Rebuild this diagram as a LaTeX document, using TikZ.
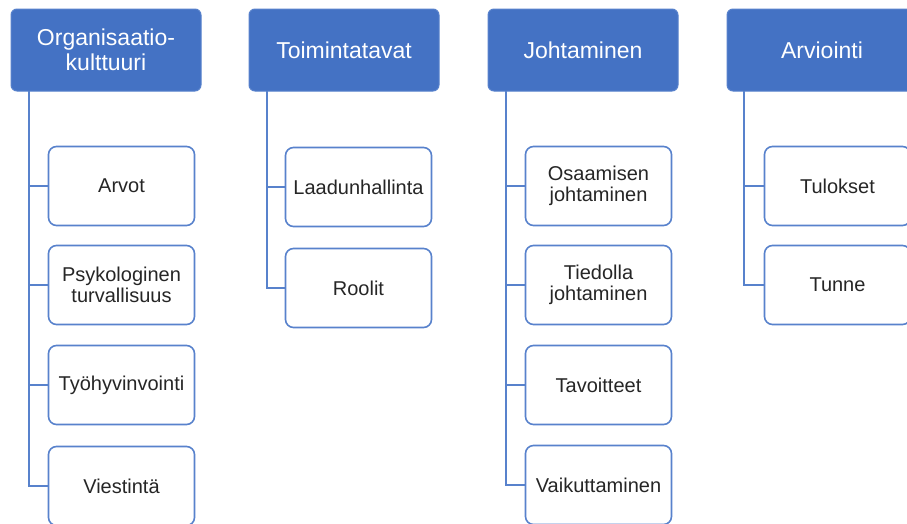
\documentclass[tikz,border=0pt]{standalone}
\usepackage{fontspec}
\setmainfont{Liberation Sans}
\definecolor{headblue}{RGB}{68,114,196}
\definecolor{lineblue}{RGB}{88,130,204}
\tikzset{
  headbox/.style={draw=lineblue, line width=1pt, fill=headblue, rounded corners=6pt,
    minimum width=190pt, minimum height=82pt, inner sep=0pt, text=white,
    align=center, font=\fontsize{23}{25.5}\selectfont},
  itembox/.style={draw=lineblue, line width=1.6pt, fill=white, rounded corners=8pt,
    minimum width=146pt, minimum height=79pt, inner sep=0pt, text=black!85,
    align=center, font=\fontsize{20}{21.5}\selectfont},
  link/.style={draw=lineblue, line width=1.6pt}
}
\begin{document}
\begin{tikzpicture}[x=1pt,y=-1pt]
  \clip (0,0) rectangle (907,523);
  \fill[white] (0,0) rectangle (907,523);

  % column headers
  \node[headbox] (h1) at (106,50) {Organisaatio-\\kulttuuri};
  \node[headbox] (h2) at (344,50) {Toimintatavat};
  \node[headbox] (h3) at (583,50) {Johtaminen};
  \node[headbox] (h4) at (822,50) {Arviointi};

  % spine start points below each header
  \coordinate (s1) at (29,91);
  \coordinate (s2) at (267,91);
  \coordinate (s3) at (506,91);
  \coordinate (s4) at (744,91);

  % first column
  \node[itembox] (a1) at (121.5,186) {Arvot};
  \node[itembox] (a2) at (121.5,285) {Psykologinen\\turvallisuus};
  \node[itembox] (a3) at (121.5,385) {Työhyvinvointi};
  \node[itembox] (a4) at (121.5,486) {Viestintä};

  % second column
  \node[itembox] (b1) at (358.5,187) {Laadunhallinta};
  \node[itembox] (b2) at (358.5,288) {Roolit};

  % third column
  \node[itembox] (c1) at (598.5,186) {Osaamisen\\johtaminen};
  \node[itembox] (c2) at (598.5,285) {Tiedolla\\johtaminen};
  \node[itembox] (c3) at (598.5,385) {Tavoitteet};
  \node[itembox] (c4) at (598.5,485) {Vaikuttaminen};

  % fourth column
  \node[itembox] (d1) at (837.5,186) {Tulokset};
  \node[itembox] (d2) at (837.5,285) {Tunne};

  % connectors
  \foreach \n in {a1,a2,a3,a4} \draw[link] (s1) |- (\n.west);
  \foreach \n in {b1,b2} \draw[link] (s2) |- (\n.west);
  \foreach \n in {c1,c2,c3,c4} \draw[link] (s3) |- (\n.west);
  \foreach \n in {d1,d2} \draw[link] (s4) |- (\n.west);
\end{tikzpicture}
\end{document}
